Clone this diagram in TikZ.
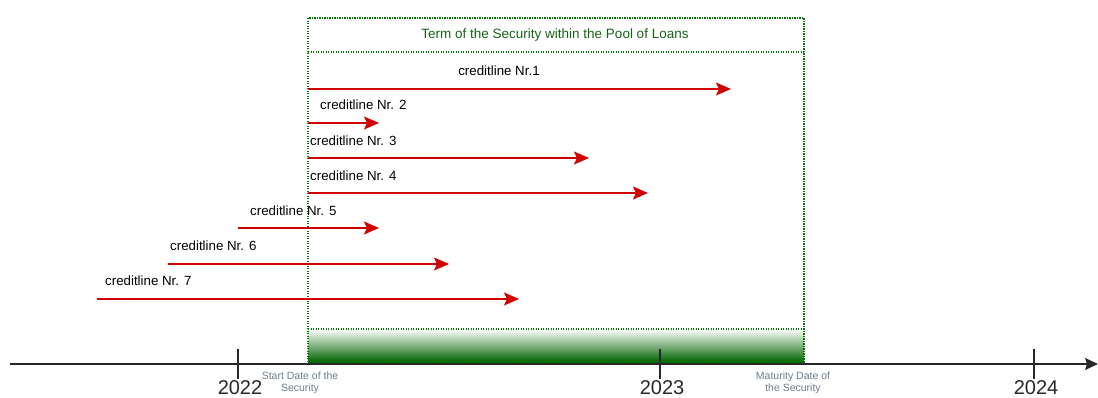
\documentclass[tikz,border=0pt]{standalone}
\usepackage{fontspec}
\setmainfont{Liberation Sans}
\usetikzlibrary{arrows.meta}
\definecolor{boxgreen}{RGB}{0,120,0}
\definecolor{darkgreen}{RGB}{0,100,0}
\definecolor{textgreen}{RGB}{20,100,20}
\definecolor{credred}{RGB}{210,0,0}
\definecolor{notegray}{RGB}{110,125,140}
\definecolor{axisgray}{RGB}{40,40,40}
\begin{document}
\begin{tikzpicture}[x=1pt,y=-1pt,
  dotbox/.style={draw=boxgreen, line width=1.1pt, dash pattern=on 1.2pt off 1.3pt},
  credit/.style={draw=credred, line width=1.8pt, -{Stealth[length=15pt,width=13pt,inset=3pt]}},
  clabel/.style={font=\fontsize{13.3}{15}\selectfont, text=black, inner sep=0pt},
  yearlbl/.style={font=\fontsize{20}{22}\selectfont, text=axisgray, inner sep=0pt},
  note/.style={font=\fontsize{10.5}{12.5}\selectfont, text=notegray, align=center, inner sep=0pt},
  tick/.style={draw=axisgray, line width=1.2pt}
]
\useasboundingbox (0,0) rectangle (1098,397);

% gradient bar
\shade[top color=white, bottom color=darkgreen] (308,329) rectangle (804,362);
% box and header
\draw[dotbox] (308,18) rectangle (804,362);
\draw[dotbox] (308,52) -- (804,52);
\draw[dotbox] (308,329) -- (804,329);
\node[font=\fontsize{13.5}{16}\selectfont, text=textgreen] (hdr) at (555,35) {Term of the Security within the Pool of Loans};

% axis
\coordinate (axL) at (10,364);
\coordinate (axR) at (1098,364);
\draw[draw=axisgray, line width=1.6pt, -{Stealth[length=13pt,width=12pt,inset=2pt]}] (axL) -- (axR);
\coordinate (t1a) at (238,349); \coordinate (t1b) at (238,379);
\coordinate (t2a) at (660,349); \coordinate (t2b) at (660,379);
\coordinate (t3a) at (1034,349); \coordinate (t3b) at (1034,379);
\draw[tick] (t1a) -- (t1b);
\draw[tick] (t2a) -- (t2b);
\draw[tick] (t3a) -- (t3b);
\node[yearlbl] (y22) at (240,388) {2022};
\node[yearlbl] (y23) at (662,388) {2023};
\node[yearlbl] (y24) at (1036,388) {2024};
\node[note] (start) at (300,383) {Start Date of the\\Security};
\node[note] (mat) at (793,383) {Maturity Date of\\the Security};

% credit lines
\coordinate (s1) at (308,89);  \coordinate (e1) at (731,89);
\coordinate (s2) at (308,123); \coordinate (e2) at (379,123);
\coordinate (s3) at (308,158); \coordinate (e3) at (589,158);
\coordinate (s4) at (308,193); \coordinate (e4) at (648,193);
\coordinate (s5) at (238,228); \coordinate (e5) at (379,228);
\coordinate (s6) at (168,264); \coordinate (e6) at (449,264);
\coordinate (s7) at (97,299);  \coordinate (e7) at (519,299);
\foreach \i in {1,...,7}{\draw[credit] (s\i) -- (e\i);}

\node[clabel] (l1) at (499,71) {creditline Nr.1};
\node[clabel, anchor=west] (l2) at (320,105) {creditline Nr. 2};
\node[clabel, anchor=west] (l3) at (310,141) {creditline Nr. 3};
\node[clabel, anchor=west] (l4) at (310,176) {creditline Nr. 4};
\node[clabel, anchor=west] (l5) at (250,211) {creditline Nr. 5};
\node[clabel, anchor=west] (l6) at (170,246) {creditline Nr. 6};
\node[clabel, anchor=west] (l7) at (105,281) {creditline Nr. 7};
\end{tikzpicture}
\end{document}
